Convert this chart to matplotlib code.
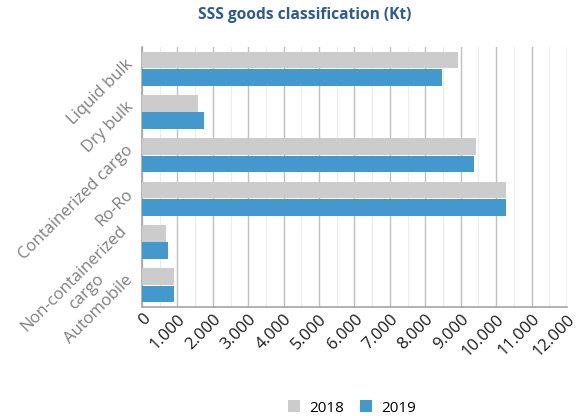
import matplotlib.pyplot as plt
import matplotlib.transforms as mtransforms
import numpy as np
from matplotlib.ticker import MultipleLocator, FuncFormatter

plt.rcParams['font.family'] = ['Open Sans', 'DejaVu Sans']

categories = ['Liquid bulk', 'Dry bulk', 'Containerized cargo', 'Ro-Ro',
              'Non-containerized\ncargo', 'Automobile']
values_2018 = [8930, 1580, 9430, 10280, 680, 900]
values_2019 = [8470, 1750, 9380, 10280, 730, 900]
x_ticks = list(range(0, 12001, 1000))

fig = plt.figure(figsize=(5.87, 4.16), dpi=100)
ax = fig.add_axes([0.2419, 0.262, 0.724, 0.625])

y = np.arange(len(categories))
h = 0.38
ax.barh(y - h / 2 - 0.01, values_2018, height=h, color='#cccccc', label='2018', zorder=3)
ax.barh(y + h / 2 + 0.01, values_2019, height=h, color='#4399cd', label='2019', zorder=3)

ax.set_ylim(len(categories) - 0.5, -0.5)
ax.set_xlim(0, 12000)
ax.set_xticks(x_ticks)
ax.xaxis.set_minor_locator(MultipleLocator(500))
ax.xaxis.set_major_formatter(FuncFormatter(lambda v, p: f'{int(v):,}'.replace(',', '.')))
ax.grid(axis='x', which='major', color='#bfbfbf', lw=1.0, zorder=0)
ax.grid(axis='x', which='minor', color='#ececec', lw=0.8, zorder=0)

ax.set_yticks(y)
ax.set_yticklabels(categories, rotation=45, ha='right', va='center',
                   rotation_mode='anchor', ma='center', color='#7f7f7f', fontsize=12)
ax.tick_params(axis='y', length=0, pad=8)
ax.tick_params(axis='x', which='both', length=0, pad=3)
shift = mtransforms.ScaledTranslation(0, 7 / 100, fig.dpi_scale_trans)
for lab in ax.get_yticklabels():
    lab.set_transform(lab.get_transform() + shift)
for lab in ax.get_xticklabels():
    lab.set_rotation(45)
    lab.set_ha('right')
    lab.set_va('top')
    lab.set_rotation_mode('anchor')
    lab.set_fontsize(12)
    lab.set_color('#1a1a1a')

for s in ['top', 'right']:
    ax.spines[s].set_visible(False)
for s in ['left', 'bottom']:
    ax.spines[s].set_color('#a6a6a6')
    ax.spines[s].set_linewidth(1.2)

fig.text(305 / 587, 1 - 15 / 416, 'SSS goods classification (Kt)', ha='center', va='center',
         fontsize=11.2, fontweight='bold', color='#2f5b8e')

fig.legend(loc='center', bbox_to_anchor=(352 / 587, 1 - 408 / 416), ncol=2, frameon=False,
           handlelength=0.8, handleheight=0.8, handletextpad=0.6, columnspacing=1.0,
           fontsize=11)

fig.savefig('out.png', dpi=100)
